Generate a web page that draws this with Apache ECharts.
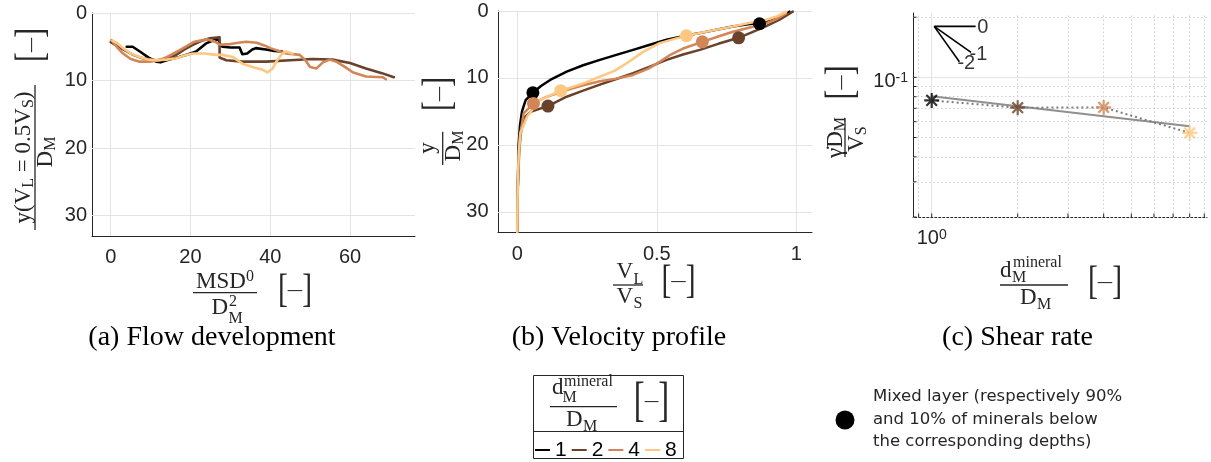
<!DOCTYPE html>
<html><head><meta charset="utf-8">
<script src="https://cdn.jsdelivr.net/npm/echarts@6/dist/echarts.min.js"></script>
<style>html,body{margin:0;padding:0;background:#fff}#c{width:1211px;height:462px}</style>
</head><body><div id="c"></div>
<script>
// ---------------- DATA ----------------
const ratioLabels = ['1', '2', '4', '8'];
const ratioColors = ['#000000', '#6a422a', '#d48555', '#ffc77f'];

// (a) Flow development: [MSD0/DM^2, y(VL=0.5VS)/DM]
const flowDev1 = [[4.0,5.0],[5.5,5.0],[7.3,5.7],[9.5,6.6],[11.4,7.2],[12.5,7.3],[14.0,7.0],[17.2,6.5],[19.5,6.1],[21.4,5.7],[23.9,4.5],[26.0,4.0],[27.0,3.9],[27.5,4.8],[28.1,5.0],[30.0,5.1],[32.3,5.1],[33.0,6.1],[34.2,6.0],[35.5,5.4],[36.4,5.2],[38.9,5.4],[41.0,5.6],[43.0,5.7]];
const flowDev2 = [[0,4.3],[2,5.0],[5.6,6.2],[8,6.7],[11.4,7.0],[14,6.8],[16.4,6.2],[18.5,5.4],[20.6,4.7],[22.5,4.2],[24.8,3.75],[27.3,3.6],[27.3,6.6],[29,7.0],[33,7.2],[39,7.2],[45,7.0],[50.6,6.8],[55.6,6.9],[60,7.4],[64,8.2],[68,8.9],[71,9.5]];
const flowDev4 = [[0.2,4.0],[1.5,5.0],[3.1,6.0],[5,6.8],[7.25,7.2],[9.75,7.2],[12.3,7.0],[14.5,6.4],[17.3,5.5],[21,4.25],[24,3.9],[26,4.2],[27.4,4.7],[30,4.6],[32,4.4],[34,4.25],[36.6,4.4],[38.5,4.8],[40,5.2],[44,6.0],[47.4,6.2],[48.8,7.0],[50,8.0],[51.6,8.2],[53.2,7.3],[54.9,6.9],[56.6,7.2],[58.8,8.0],[60.8,8.8],[64,9.4],[68.2,9.5],[69,9.8]];
const flowDev8 = [[0.4,4.1],[1.5,4.4],[3.1,5.2],[5,6.0],[7.25,6.5],[9.5,6.9],[11.4,7.0],[14,6.9],[16.4,6.7],[18.5,6.3],[20.6,6.0],[23.5,6.0],[26.4,6.2],[28,6.2],[30.6,6.5],[33,7.5],[35.5,8.0],[38.1,8.4],[39.3,8.8],[40.6,8.2],[41.5,7.2],[42.7,6.2],[43.9,5.7],[45.6,6.0]];
const flowXTicks = [0, 20, 40, 60];
const depthTicks = [0, 10, 20, 30];

// (b) Velocity profile: [VL/VS, y/DM]
const velProf1 = [[0,33],[0.001,28],[0.003,24],[0.005,20],[0.01,17],[0.017,15],[0.03,13.3],[0.056,12.2],[0.085,11.2],[0.118,10.3],[0.177,9.05],[0.236,8.1],[0.296,7.3],[0.355,6.55],[0.415,5.8],[0.475,5.05],[0.535,4.3],[0.594,3.75],[0.654,3.3],[0.713,2.8],[0.773,2.3],[0.82,2.0],[0.868,1.75],[0.91,1.4],[0.951,0.85],[0.975,0.1]];
const velProf2 = [[0,33],[0.001,28],[0.004,24],[0.007,21],[0.012,18.5],[0.023,16.0],[0.05,15.0],[0.11,14.2],[0.177,12.8],[0.236,11.9],[0.296,11.0],[0.355,10.15],[0.415,9.3],[0.475,8.3],[0.535,7.3],[0.594,6.5],[0.654,5.8],[0.72,4.9],[0.793,4.0],[0.84,3.2],[0.89,2.3],[0.94,1.3],[0.987,0.1]];
const velProf4 = [[0,33],[0.001,28],[0.003,24],[0.006,21],[0.01,18.5],[0.023,15.3],[0.058,13.8],[0.1,12.9],[0.177,11.8],[0.236,11.1],[0.296,10.5],[0.355,10.1],[0.415,9.55],[0.47,8.6],[0.51,7.6],[0.55,6.5],[0.594,5.6],[0.663,4.6],[0.72,3.8],[0.773,3.1],[0.83,2.5],[0.89,1.85],[0.93,1.2],[0.963,0.35]];
const velProf8 = [[0,33],[0.001,28],[0.003,24],[0.006,21],[0.011,18.3],[0.035,15.8],[0.08,13.3],[0.156,11.9],[0.237,10.8],[0.296,9.8],[0.35,8.9],[0.392,7.8],[0.451,6.1],[0.51,4.8],[0.56,4.2],[0.606,3.7],[0.69,3.0],[0.773,2.3],[0.83,1.8],[0.89,1.35],[0.93,0.8],[0.963,0.15]];
const mixedTop = [[0.868,1.9],[0.793,4.0],[0.663,4.6],[0.606,3.7]];
const mixedBottom = [[0.056,12.2],[0.11,14.2],[0.058,13.8],[0.156,11.9]];
const velXTicks = [0, 0.5, 1];

// (c) Shear rate
const mineralRatio = [1, 2, 4, 8];
const shearRate = [0.0767, 0.0705, 0.0707, 0.0527];
const fitRatio = [1, 8];
const fitShear = [0.0804, 0.0569];
const slopeOrigin = [1.02, 0.18];
const slopeEnds = [[1.425, 0.18], [1.373, 0.1334], [1.25, 0.1198]];
const slopeLabels = ['0', '-1', '-2'];
const shearXMinor = [0.9, 2, 3, 4, 5, 6, 7, 8, 9];
const shearYMinor = [0.02, 0.03, 0.04, 0.05, 0.06, 0.07, 0.08, 0.09, 0.2];
const shearXMajor = [1];
const shearYMajor = [0.1];

// ---------------- STYLE HELPERS ----------------
const INK = '#262626';
const SERIF = '"Liberation Serif", "Times New Roman", serif';
const SANS = '"Liberation Sans", Arial, sans-serif';
const f = (px, fam) => px + 'px ' + (fam || SERIF);
const GRID = '#e3e3e3';
const MINOR = '#cfcfcf';

const rich = {
  m: {font: f(23), lineHeight: 26},
  sb: {font: f(16), lineHeight: 16, verticalAlign: 'bottom'},
  sp: {font: f(16), lineHeight: 16, verticalAlign: 'top'},
  b: {font: f(41)},
  bl: {font: f(48)},
  d: {font: f(20)}
};
function T(x, y, text, opt) {
  opt = opt || {};
  const align = opt.align || 'center';
  const el = {type: 'text', x: x, y: y, silent: true, z: 100,
    style: {text: text, font: opt.font || f(23), fill: opt.fill || INK,
      align: align, textAlign: align, verticalAlign: 'middle', textVerticalAlign: 'middle', rich: rich}};
  if (opt.scaleX) el.scaleX = opt.scaleX;
  return el;
}
function bar(x, y, w) { return {type: 'rect', silent: true, z: 100, shape: {x: x, y: y - 0.65, width: w, height: 1.3}, style: {fill: INK}}; }
// rotated (bottom-to-top) elements: local x = -screenY, local y = screenX
function RT(sx, sy, text, opt) { return T(-sy, sx, text, opt); }
function Rbar(sx, y1, y2) { return {type: 'rect', silent: true, z: 100, shape: {x: -y2, y: sx - 0.65, width: y2 - y1, height: 1.3}, style: {fill: INK}}; }
const BR = '{b|[}{d|—}{b|]}';
const BRS = {scaleX: 0.72};

function gridLines(xs, ys, style) {
  return xs.map(v => ({xAxis: v, lineStyle: style})).concat(ys.map(v => ({yAxis: v, lineStyle: style})));
}
function markGrid(data) {
  return {silent: true, z: 1, symbol: ['none', 'none'], label: {show: false}, emphasis: {disabled: true}, data: data};
}
const solidGrid = {color: GRID, width: 1, type: 'solid'};
const dotGrid = {color: MINOR, width: 1, type: [1.5, 2.5]};

const tickLabel = {fontSize: 20, fontFamily: SANS, color: INK};
const logRich = {
  a: {fontSize: 20, fontFamily: SANS, color: INK, lineHeight: 20, verticalAlign: 'bottom'},
  e: {fontSize: 14, fontFamily: SANS, color: INK, lineHeight: 14, verticalAlign: 'top', padding: [0, 0, 10, 0]}
};
const logFmt = v => '{a|10}{e|' + Math.round(Math.log10(v)) + '}';

function valueAxis(grid, min, max, ticks, margin, extra) {
  return Object.assign({
    gridIndex: grid, type: 'value', min: min, max: max,
    axisLine: {show: true, onZero: false, lineStyle: {color: INK, width: 1}},
    axisTick: {show: true, inside: true, length: 3, customValues: ticks, lineStyle: {color: INK}},
    axisLabel: Object.assign({customValues: ticks, margin: margin}, tickLabel),
    splitLine: {show: false}
  }, extra || {});
}

const flowSets = [flowDev1, flowDev2, flowDev4, flowDev8];
const velSets = [velProf1, velProf2, velProf4, velProf8];

const series = [];
flowSets.forEach((d, i) => series.push({
  type: 'line', name: ratioLabels[i], xAxisIndex: 0, yAxisIndex: 0, data: d,
  showSymbol: false, color: ratioColors[i], z: 2 + i * 0.1,
  lineStyle: {width: 2.6, color: ratioColors[i], cap: 'round', join: 'round'},
  markLine: i === 0 ? markGrid(gridLines(flowXTicks, depthTicks, solidGrid)) : undefined
}));
velSets.forEach((d, i) => series.push({
  type: 'line', name: ratioLabels[i], xAxisIndex: 1, yAxisIndex: 1, data: d,
  showSymbol: false, color: ratioColors[i], z: 2 + i * 0.1,
  lineStyle: {width: 2.5, color: ratioColors[i], cap: 'round', join: 'round'},
  markLine: i === 0 ? markGrid(gridLines(velXTicks, depthTicks, solidGrid)) : undefined
}));
ratioColors.forEach((c, i) => series.push({
  type: 'scatter', name: 'mixed' + ratioLabels[i], xAxisIndex: 1, yAxisIndex: 1,
  data: [mixedTop[i], mixedBottom[i]], symbol: 'circle', symbolSize: 13, z: 4,
  itemStyle: {color: c, opacity: 1}
}));
// (c)
series.push({
  type: 'line', name: 'fit', xAxisIndex: 2, yAxisIndex: 2,
  data: fitRatio.map((x, i) => [x, fitShear[i]]), showSymbol: false, z: 2,
  lineStyle: {color: '#8f8f8f', width: 2},
  markLine: markGrid(gridLines(shearXMajor, shearYMajor, solidGrid).concat(gridLines(shearXMinor, shearYMinor, dotGrid)))
});
series.push({
  type: 'line', name: 'shearDotted', xAxisIndex: 2, yAxisIndex: 2,
  data: mineralRatio.map((x, i) => [x, shearRate[i]]), showSymbol: false, z: 2.1,
  lineStyle: {color: '#7d7d7d', width: 2, type: [2, 3]}
});
series.push({
  type: 'scatter', name: 'shearPts', xAxisIndex: 2, yAxisIndex: 2, z: 4,
  symbol: 'path://M0,-10L0,10M-10,0L10,0M-7.07,-7.07L7.07,7.07M-7.07,7.07L7.07,-7.07',
  symbolSize: 15,
  data: mineralRatio.map((x, i) => ({value: [x, shearRate[i]], itemStyle: {color: ratioColors[i], borderColor: ratioColors[i], borderWidth: 2.2}}))
});
slopeEnds.forEach((e, i) => series.push({
  type: 'line', name: 'slope' + i, xAxisIndex: 2, yAxisIndex: 2, data: [slopeOrigin, e],
  showSymbol: false, z: 3, lineStyle: {color: '#000', width: 1.6}
}));
const slopeOffsets = [[-1, 1], [-4, 2], [-4.5, 1.5]];
series.push({
  type: 'scatter', name: 'slopeLabels', xAxisIndex: 2, yAxisIndex: 2, z: 5, symbolSize: 1,
  itemStyle: {color: 'rgba(0,0,0,0)'},
  data: slopeEnds.map((e, i) => ({name: slopeLabels[i], value: e, label: {offset: slopeOffsets[i]}})),
  label: {show: true, position: 'right', distance: 2, formatter: '{b}', fontSize: 20, fontFamily: SANS, color: '#000'}
});
const tickLine = (dx, dy) => (p, api) => {
  const c = api.coord([api.value(0), api.value(1)]);
  return {type: 'line', shape: {x1: c[0], y1: c[1], x2: c[0] + dx, y2: c[1] + dy}, style: {stroke: INK, lineWidth: 1}};
};
series.push({type: 'custom', name: 'xTicksC', xAxisIndex: 2, yAxisIndex: 2, z: 3, silent: true,
  data: shearXMajor.concat(shearXMinor).map(v => [v, 0.02]), renderItem: tickLine(0, -3.5)});
series.push({type: 'custom', name: 'yTicksC', xAxisIndex: 2, yAxisIndex: 2, z: 3, silent: true,
  data: shearYMajor.concat(shearYMinor).map(v => [0.86, v]), renderItem: tickLine(3.5, 0)});

// ---------------- GRAPHIC TEXT ----------------
const DJ = '"DejaVu Sans"';
const graphics = [
  // (a) x label
  T(225, 282, '{m|MSD}{sp|0}'), bar(193, 292.7, 64),
  T(228, 307.5, 'D', {align: 'right'}), T(229, 301.5, '2', {font: f(16), align: 'left'}), T(228.5, 318.5, 'M', {font: f(16), align: 'left'}),
  T(295, 291, BR, BRS),
  // (b) x label
  T(633, 272.3, 'V', {align: 'right'}), T(633.5, 279.5, 'L', {font: f(16), align: 'left'}), bar(613, 285, 30),
  T(633, 296.7, 'V', {align: 'right'}), T(633.5, 304, 'S', {font: f(16), align: 'left'}),
  T(678.5, 282, BR, BRS),
  // (c) x label
  T(1000, 270.8, 'd', {align: 'left'}), T(1013, 263, 'mineral', {font: f(16), align: 'left'}), T(1012, 278, 'M', {font: f(16), align: 'left'}),
  bar(1000, 285, 68),
  T(1020, 297.5, 'D', {align: 'left'}), T(1037, 304.5, 'M', {font: f(16), align: 'left'}),
  T(1105, 283, BR, BRS),
  // captions
  T(212, 338, '(a) Flow development', {font: f(28), fill: '#000'}),
  T(619, 338, '(b) Velocity profile', {font: f(28), fill: '#000'}),
  T(1017.5, 338, '(c) Shear rate', {font: f(28), fill: '#000'}),
  // rotated y labels
  {type: 'group', x: 0, y: 0, rotation: Math.PI / 2, silent: true, children: [
    RT(24, 157.5, '{m|y(V}{sb|L}{m| = 0.5V}{sb|S}{m|)}'), Rbar(35, 85, 230), RT(45.5, 152, '{m|D}{sb|M}'), RT(32, 45, BR, BRS),
    RT(428, 148, '{m|y}'), Rbar(442.7, 131.7, 165), RT(454.2, 146, '{m|D}{sb|M}'), RT(439.5, 94, BR, BRS),
    RT(835.5, 137.5, '{m|γ̇D}{sb|M}'), Rbar(845, 118, 157), RT(857, 139, '{m|V}{sb|S}'), RT(842, 82.5, BR, BRS)
  ]},
  // legend box
  {type: 'rect', silent: true, z: 90, shape: {x: 533.5, y: 375.5, width: 150, height: 83}, style: {fill: '#fff', stroke: INK, lineWidth: 1}},
  {type: 'line', silent: true, z: 91, shape: {x1: 533.5, y1: 431.5, x2: 683.5, y2: 431.5}, style: {stroke: INK, lineWidth: 1}},
  T(552, 387.5, 'd', {align: 'left'}), T(564, 382, 'mineral', {font: f(16), align: 'left'}), T(562.5, 398, 'M', {font: f(16), align: 'left'}),
  bar(550, 406.7, 67),
  T(566, 420, 'D', {align: 'left'}), T(583, 427, 'M', {font: f(16), align: 'left'}),
  T(651.5, 402, '{bl|[}{d|—}{bl|]}', {scaleX: 0.68}),
  // mixed layer annotation
  {type: 'circle', silent: true, z: 100, shape: {cx: 845, cy: 420, r: 9.5}, style: {fill: '#000'}},
  T(873, 397, 'Mixed layer (respectively 90%', {font: f(16.5, DJ), align: 'left'}),
  T(873, 419.5, 'and 10% of minerals below', {font: f(16.5, DJ), align: 'left'}),
  T(873, 442, 'the corresponding depths)', {font: f(16.5, DJ), align: 'left'})
];

const option = {
  animation: false,
  backgroundColor: '#ffffff',
  grid: [
    {left: 92, top: 13, width: 323, height: 223},
    {left: 498, top: 11, width: 314, height: 221},
    {left: 913, top: 13, width: 294, height: 204}
  ],
  xAxis: [
    valueAxis(0, -4.7, 76.3, flowXTicks, 11),
    valueAxis(1, -0.069, 1.056, velXTicks, 12),
    {gridIndex: 2, type: 'log', logBase: 10, min: 0.86, max: 9.2,
      axisLine: {show: true, onZero: false, lineStyle: {color: INK, width: 1}},
      axisTick: {show: false}, splitLine: {show: false}, minorTick: {show: false}, minorSplitLine: {show: false},
      axisLabel: {showMinLabel: false, showMaxLabel: false, margin: 11.5, formatter: logFmt, rich: logRich}}
  ],
  yAxis: [
    valueAxis(0, 0, 33, depthTicks, 5, {inverse: true}),
    valueAxis(1, 0, 33, depthTicks, 9.5, {inverse: true}),
    {gridIndex: 2, type: 'log', logBase: 10, min: 0.02, max: 0.21,
      axisLine: {show: true, onZero: false, lineStyle: {color: INK, width: 1}},
      axisTick: {show: false}, splitLine: {show: false}, minorTick: {show: false}, minorSplitLine: {show: false},
      axisLabel: {showMinLabel: false, showMaxLabel: false, margin: 5, padding: [8, 0, 0, 0], formatter: logFmt, rich: logRich}}
  ],
  legend: {
    data: ratioLabels, left: 535, top: 439.5, padding: 0, itemGap: 5, itemWidth: 15, itemHeight: 2,
    icon: 'rect', selectedMode: false, z: 95,
    textStyle: {fontSize: 21, fontFamily: SANS, color: '#000'}
  },
  graphic: graphics,
  series: series
};

const chart = echarts.init(document.getElementById('c'), null, {renderer: 'canvas'});
chart.setOption(option);
</script>
</body></html>
